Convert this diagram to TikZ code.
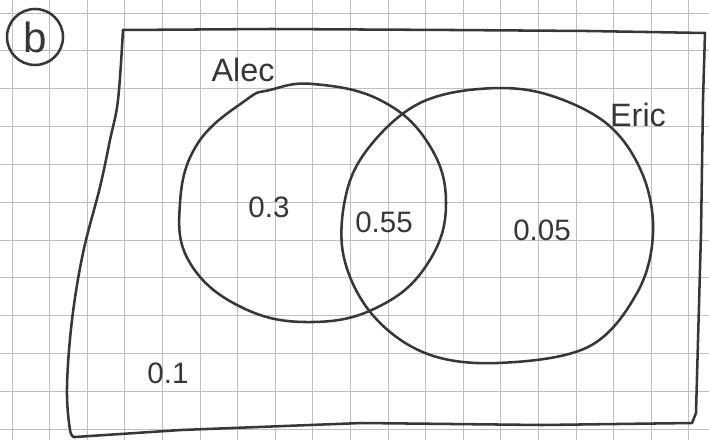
\documentclass[tikz,border=0pt]{standalone}
\usepackage{fontspec}
\setmainfont{Liberation Sans}
\usepackage{xcolor}
\usetikzlibrary{positioning}
\definecolor{ink}{RGB}{55,55,55}
\definecolor{paper}{RGB}{190,190,190}

\begin{document}
\begin{tikzpicture}[
  x=0.025cm, y=-0.025cm,
  every node/.style={font=\fontsize{21}{25}\selectfont, text=ink},
  pen/.style={draw=ink, line width=1.8pt, line join=round, line cap=round},
  gridline/.style={draw=paper, line width=0.7pt},
  prob/.style={inner sep=0pt},
  setname/.style={inner sep=0pt, font=\fontsize{23}{27}\selectfont},
]
  \fill[white] (0,0) rectangle (709,440);
  \useasboundingbox (0,0) rectangle (709,440);
  % squared paper
  \foreach \i in {0,...,18}
    \draw[gridline] ({12+37.6*\i},0) -- ({12+37.6*\i},440);
  \foreach \j in {0,...,11}
    \draw[gridline] (0,{13+37.85*\j}) -- (709,{13+37.85*\j});

  % sample space
  \draw[pen] (123,30) -- (271,29) -- (452,30) -- (588,31) -- (705,33)
    -- (703,100) -- (701,233) -- (696,413) -- (692,423)
    -- (542,425) -- (362,423) -- (181,430) -- (75,437);
  \draw[pen] plot[smooth, tension=0.6] coordinates {
    (75,437) (70,430) (67,387) (72,320) (83,253) (100,187) (110,140)
    (118,100) (123,30)};

  % Alec
  \draw[pen] plot[smooth cycle, tension=0.7] coordinates {
    (446,203) (428,143) (380,100) (313,84) (270,90) (246,100) (198,143)
    (180,203) (190,263) (243,308) (313,322) (380,306) (428,263)};
  % Eric
  \draw[pen] plot[smooth cycle, tension=0.6] coordinates {
    (479,89) (542,93) (606,123) (642,173) (653,233) (637,293) (588,347)
    (497,363) (425,353) (371,313) (343,253) (348,187) (375,140) (420,103)};

  \node[circle, pen, minimum size=1.4cm, inner sep=0pt,
        font=\fontsize{30}{34}\selectfont] (part) at (35,37) {b};
  \node[setname] (alec) at (243,70) {Alec};
  \node[setname] (eric) at (638,115) {Eric};
  \node[prob] (onlyA) at (269,207) {0.3};
  \node[prob] (both) at (384,222) {0.55};
  \node[prob] (onlyE) at (542,230) {0.05};
  \node[prob] (neither) at (168,373) {0.1};
\end{tikzpicture}
\end{document}
